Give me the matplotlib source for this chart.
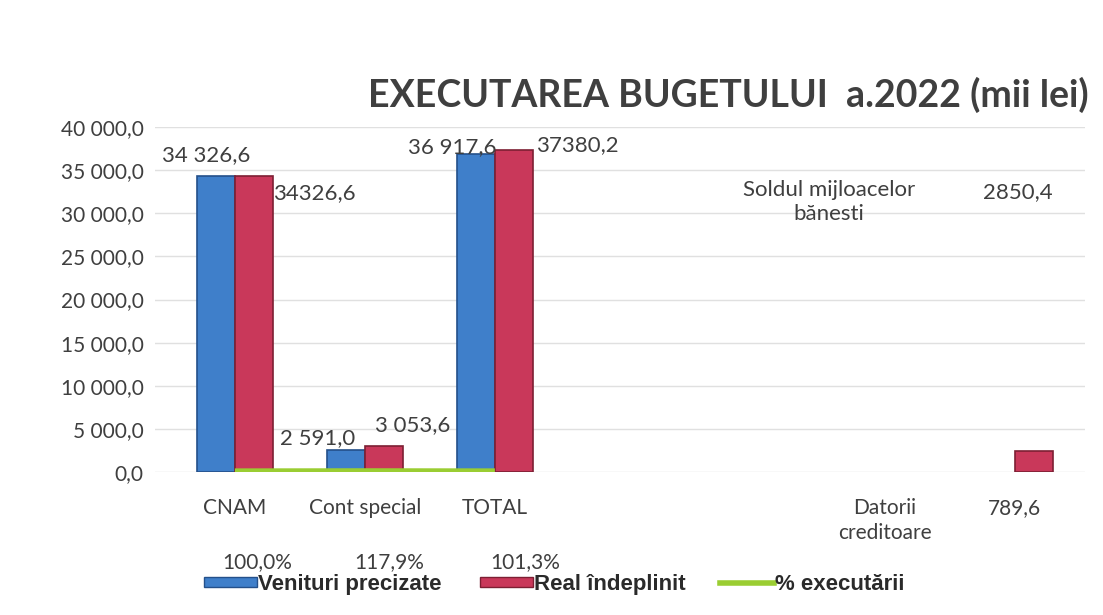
import matplotlib
matplotlib.use("Agg")
import matplotlib.pyplot as plt
from matplotlib.lines import Line2D
from matplotlib.patches import Patch

nan = float("nan")

# data
categories = ["CNAM", "Cont special", "TOTAL", "", "", "Datorii\ncreditoare", "789,6"]
planned = [34326.6, 2591.0, 36917.6, nan, nan, nan, nan]      # Venituri precizate
actual = [34326.6, 3053.6, 37380.2, nan, nan, nan, 2400.0]    # Real îndeplinit
pct = [100.0, 117.9, 101.3]                                    # % executării
pct_labels = ["100,0%", "117,9%", "101,3%"]
planned_labels = ["34 326,6", "2 591,0", "36 917,6"]
actual_labels = ["34326,6", "3 053,6", "37380,2"]
yticks = [0, 5000, 10000, 15000, 20000, 25000, 30000, 35000, 40000]

BLUE, BLUE_E = "#3f7fca", "#24508a"
RED, RED_E = "#c9385a", "#7d1f33"
GREEN = "#9acd32"
TXT = "#3f3f3f"

plt.rcParams["font.family"] = ["Lato", "DejaVu Sans"]

fig = plt.figure(figsize=(11.03, 6.15), dpi=100)
ax = fig.add_axes([0.1405, 0.2325, 0.8432, 0.561])
w = 0.29
x = list(range(len(categories)))
ax.bar([i - w / 2 for i in x], planned, w, color=BLUE, edgecolor=BLUE_E, lw=1.2, zorder=3)
ax.bar([i + w / 2 for i in x], actual, w, color=RED, edgecolor=RED_E, lw=1.2, zorder=3)
ax.plot(x[:3], pct, color=GREEN, lw=4, zorder=4, solid_capstyle="butt")

ax.set_xlim(-0.615, 6.54)
ax.set_ylim(0, 40000)
ax.set_yticks(yticks)
ax.set_yticklabels([f"{v:,.1f}".replace(",", " ").replace(".", ",") for v in yticks],
                   fontsize=15, color=TXT)
ax.set_xticks(x)
ax.set_xticklabels(categories, fontsize=15, color=TXT, linespacing=1.3)
ax.tick_params(length=0, pad=8)
ax.tick_params(axis="x", pad=19)
ax.grid(axis="y", color="#e0e0e0", lw=1, zorder=0)
for s in ax.spines.values():
    s.set_visible(False)

# data labels (positions as in the source chart)
lab = dict(ha="center", va="center", fontsize=16, color=TXT)
ax.text(-0.223, 36775, planned_labels[0], **lab)
ax.text(0.608, 32366, actual_labels[0], **lab)
ax.text(0.638, 3944, planned_labels[1], **lab)
ax.text(1.369, 5452, actual_labels[1], **lab)
ax.text(1.669, 37700, planned_labels[2], **lab)
ax.text(2.631, 37935, actual_labels[2], **lab)

ax.text(4.57, 31300, "Soldul mijloacelor\nbănesti", ha="center", va="center",
        fontsize=16, color=TXT, linespacing=1.2)
ax.text(6.02, 32500, "2850,4", ha="center", va="center", fontsize=16, color=TXT)

fig.text(0.66, 0.846, "EXECUTAREA BUGETULUI  a.2022 (mii lei)", ha="center", va="center",
         fontsize=27, fontweight="bold", color=TXT)

# percentage labels sitting just above the legend, as in the source
for px, lbl in zip([0.233, 0.353, 0.476], pct_labels):
    fig.text(px, 0.086, lbl, ha="center", va="center", fontsize=15, color=TXT)

handles = [Patch(facecolor=BLUE, edgecolor=BLUE_E),
           Patch(facecolor=RED, edgecolor=RED_E),
           Line2D([], [], color=GREEN, lw=4)]
names = ["Venituri precizate", "Real îndeplinit", "% executării"]
for hx, h, n in zip([0.185, 0.435, 0.653], handles, names):
    leg = fig.legend([h], [n], loc="center left", bbox_to_anchor=(hx, 0.05), frameon=False,
                     prop={"family": "Liberation Sans", "weight": "bold", "size": 16},
                     handlelength=2.4, handleheight=0.35, handletextpad=0.05,
                     borderpad=0, borderaxespad=0)
    for t in leg.get_texts():
        t.set_color("#2a2a2a")

fig.savefig("out.png", dpi=100)
